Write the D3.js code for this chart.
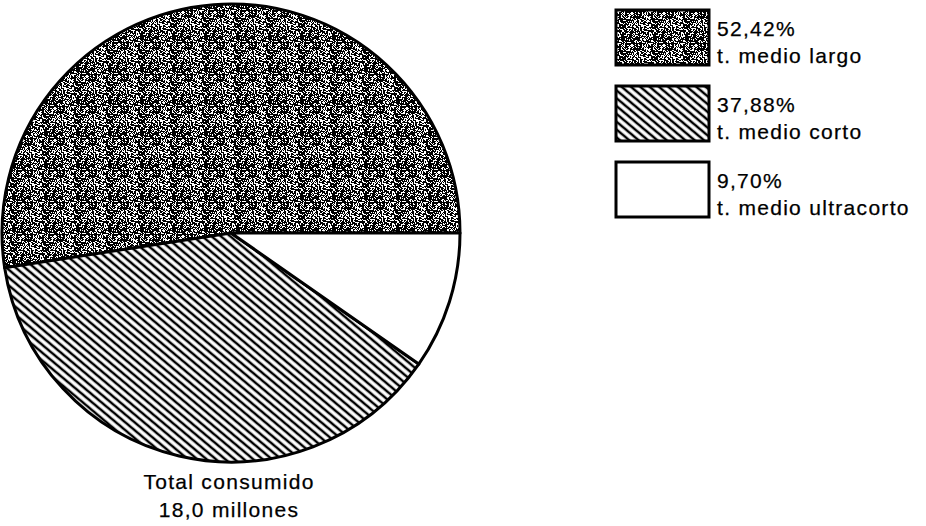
<!DOCTYPE html>
<html>
<head>
<meta charset="utf-8">
<script src="https://cdn.jsdelivr.net/npm/d3@7"></script>
<style>
  html, body { margin: 0; padding: 0; background: #fff; }
  svg { display: block; }
  text {
    font-family: "Liberation Sans", Arial, Helvetica, sans-serif;
    fill: #000; stroke: #000; stroke-width: 0.25px;
    font-size: 21px; letter-spacing: 1.3px;
  }
</style>
</head>
<body>
<svg id="chart" width="926" height="526"></svg>
<script>
// Consumption shares by term type
const categories = ["t. medio largo", "t. medio corto", "t. medio ultracorto"];
const shares = [52.42, 37.88, 9.70];
const shareLabels = ["52,42%", "37,88%", "9,70%"];
const fills = ["url(#stipple)", "url(#hatch)", "#fff"];
const captionLines = ["Total consumido", "18,0 millones"];

const svg = d3.select("#chart");
const defs = svg.append("defs");

// Stippled dark texture: a 32x32 tile of dots from an integer hash
const tile = 32;
function hash(x, y) {
  let h = (x * 374761393 + y * 668265263) | 0;
  h = Math.imul(h ^ (h >>> 13), 1274126177);
  h = h ^ (h >>> 16);
  return (h >>> 0) / 4294967296;
}
const stip = defs.append("pattern")
  .attr("id", "stipple")
  .attr("patternUnits", "userSpaceOnUse")
  .attr("width", tile).attr("height", tile);
stip.append("rect").attr("width", tile).attr("height", tile).attr("fill", "#fff");
const dots = [];
for (let y = 0; y < tile; y++) {
  for (let x = 0; x < tile; x++) {
    if (hash(x, y) < 0.6) dots.push([x, y]);
  }
}
stip.append("path")
  .attr("fill", "#000")
  .attr("shape-rendering", "crispEdges")
  .attr("d", dots.map(([x, y]) => `M${x},${y}h1v1h-1z`).join(""));

// Diagonal hatching running down to the right
const hatch = defs.append("pattern")
  .attr("id", "hatch")
  .attr("patternUnits", "userSpaceOnUse")
  .attr("width", 12).attr("height", 6)
  .attr("patternTransform", "rotate(40)");
hatch.append("rect").attr("width", 12).attr("height", 6).attr("fill", "#fff");
hatch.append("line")
  .attr("x1", 0).attr("y1", 3).attr("x2", 12).attr("y2", 3)
  .attr("stroke", "#000").attr("stroke-width", 2.5);

// Pie: first slice starts at 3 o'clock and runs counter-clockwise
const cx = 231, cy = 233, r = 229;
const pie = d3.pie().sort(null)
  .startAngle(Math.PI / 2)
  .endAngle(Math.PI / 2 - 2 * Math.PI);
const arcs = pie(shares);
const arc = d3.arc().innerRadius(0).outerRadius(r);

const g = svg.append("g").attr("transform", `translate(${cx},${cy})`);
g.selectAll("path.slice")
  .data(arcs)
  .join("path")
  .attr("class", "slice")
  .attr("d", arc)
  .attr("fill", (d, i) => fills[i])
  .attr("stroke", "#000")
  .attr("stroke-width", 3)
  .attr("stroke-linejoin", "round");

// Caption under the pie
svg.append("text")
  .attr("text-anchor", "middle")
  .selectAll("tspan")
  .data(captionLines)
  .join("tspan")
  .attr("x", 229)
  .attr("y", (d, i) => 489 + i * 28)
  .text(d => d);

// Legend
const legY = d3.scalePoint().domain(categories).range([10, 162]);
const items = svg.append("g").selectAll("g.item")
  .data(categories)
  .join("g")
  .attr("class", "item")
  .attr("transform", d => `translate(616,${legY(d)})`);
items.append("rect")
  .attr("width", 93).attr("height", 55)
  .attr("fill", (d, i) => fills[i])
  .attr("stroke", "#000")
  .attr("stroke-width", 3);
items.append("text")
  .attr("x", 101).attr("y", 26)
  .text((d, i) => shareLabels[i]);
items.append("text")
  .attr("x", 101).attr("y", 53)
  .text(d => d);
</script>
</body>
</html>
